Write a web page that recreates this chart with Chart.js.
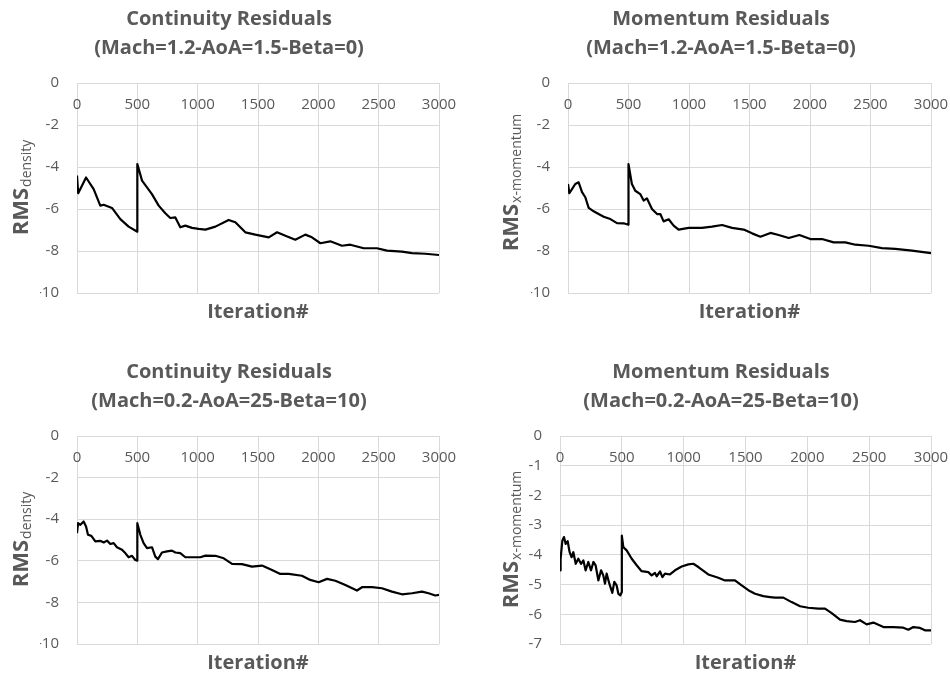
<!DOCTYPE html>
<html>
<head>
<meta charset="utf-8">
<script src="https://cdn.jsdelivr.net/npm/chart.js@4.4.1/dist/chart.umd.min.js"></script>
<style>
  body { margin: 0; background: #fff; width: 950px; height: 677px; overflow: hidden; position: relative; }
  canvas { position: absolute; }
</style>
</head>
<body>
<canvas id="contA" width="475" height="338" style="left:0;top:0"></canvas>
<canvas id="momA" width="475" height="338" style="left:475px;top:0"></canvas>
<canvas id="contB" width="475" height="339" style="left:0;top:338px"></canvas>
<canvas id="momB" width="475" height="339" style="left:475px;top:338px"></canvas>
<script>
// Mach=1.2, AoA=1.5, Beta=0 -- continuity
const iterContA = [0,10,75,138,193,221,290,359,428,500,500,539,580,621,677,732,773,815,856,898,953,1008,1064,1147,1257,1312,1395,1478,1589,1658,1727,1809,1892,1947,2017,2099,2196,2265,2376,2486,2569,2693,2776,2887,3000];
const rmsContA = [-4.41,-5.25,-4.5,-5.05,-5.84,-5.8,-5.95,-6.48,-6.84,-7.08,-3.86,-4.65,-4.97,-5.29,-5.84,-6.2,-6.43,-6.4,-6.87,-6.79,-6.9,-6.95,-6.98,-6.84,-6.52,-6.63,-7.11,-7.22,-7.35,-7.11,-7.27,-7.46,-7.22,-7.35,-7.63,-7.54,-7.75,-7.7,-7.87,-7.87,-7.98,-8.03,-8.1,-8.13,-8.19];

// Mach=1.2, AoA=1.5, Beta=0 -- x-momentum
const iterMomA = [0,11,33,60,88,116,143,171,212,253,295,350,405,460,500,500,528,556,597,625,652,694,736,763,790,832,873,914,997,1107,1190,1273,1356,1452,1521,1590,1673,1741,1824,1912,2003,2099,2196,2292,2375,2485,2595,2705,2843,3000];
const rmsMomA = [-4.81,-5.25,-5.05,-4.81,-4.73,-5.2,-5.44,-5.95,-6.11,-6.24,-6.37,-6.48,-6.67,-6.68,-6.75,-3.86,-4.81,-5.13,-5.29,-5.6,-5.49,-6.0,-6.24,-6.24,-6.59,-6.49,-6.79,-6.98,-6.9,-6.9,-6.84,-6.76,-6.9,-6.98,-7.16,-7.32,-7.14,-7.24,-7.38,-7.24,-7.43,-7.43,-7.59,-7.59,-7.7,-7.75,-7.86,-7.9,-7.98,-8.1];

// Mach=0.2, AoA=25, Beta=10 -- continuity
const iterContB = [0,9,28,55,75,91,119,152,193,221,249,276,304,331,373,400,428,456,483,500,500,525,552,580,622,649,671,704,746,787,815,856,898,953,1022,1064,1147,1216,1285,1367,1450,1533,1616,1685,1754,1864,1933,2003,2072,2141,2224,2320,2362,2445,2527,2610,2693,2776,2859,2914,2969,3000];
const rmsContB = [-4.67,-4.19,-4.27,-4.11,-4.35,-4.75,-4.8,-5.07,-5.04,-5.12,-5.03,-5.19,-5.15,-5.35,-5.47,-5.63,-5.83,-5.76,-5.96,-5.99,-4.19,-4.75,-5.15,-5.39,-5.35,-5.8,-5.92,-5.6,-5.55,-5.51,-5.6,-5.63,-5.83,-5.83,-5.83,-5.75,-5.76,-5.88,-6.15,-6.16,-6.28,-6.23,-6.44,-6.63,-6.63,-6.72,-6.92,-7.03,-6.87,-6.96,-7.16,-7.43,-7.27,-7.27,-7.32,-7.48,-7.61,-7.56,-7.48,-7.56,-7.67,-7.64];

// Mach=0.2, AoA=25, Beta=10 -- x-momentum
const iterMomB = [0,5,19,32,46,62,78,94,108,127,148,170,189,207,229,251,270,288,310,332,350,364,377,399,423,439,458,472,488,500,500,512,539,580,620,660,714,741,768,782,809,828,849,889,930,984,1038,1078,1119,1199,1280,1334,1415,1469,1523,1577,1644,1698,1739,1806,1873,1941,2008,2089,2143,2197,2264,2318,2385,2426,2480,2534,2615,2695,2776,2817,2857,2911,2951,3000];
const rmsMomB = [-4.52,-4.13,-3.52,-3.4,-3.63,-3.54,-3.91,-4.08,-3.91,-4.3,-4.13,-4.3,-4.19,-4.52,-4.24,-4.52,-4.24,-4.35,-4.86,-4.52,-4.69,-4.97,-4.63,-4.97,-5.28,-4.91,-5.03,-5.31,-5.36,-5.25,-3.35,-3.74,-3.85,-4.13,-4.35,-4.55,-4.58,-4.69,-4.61,-4.72,-4.56,-4.75,-4.63,-4.66,-4.52,-4.39,-4.32,-4.3,-4.41,-4.66,-4.77,-4.86,-4.86,-5.03,-5.19,-5.31,-5.39,-5.42,-5.44,-5.44,-5.59,-5.73,-5.78,-5.81,-5.81,-5.96,-6.18,-6.23,-6.26,-6.2,-6.34,-6.28,-6.43,-6.43,-6.45,-6.52,-6.43,-6.46,-6.54,-6.54];

const xTicks = [0, 500, 1000, 1500, 2000, 2500, 3000];

Chart.defaults.font.family = '"Open Sans", sans-serif';
Chart.defaults.color = '#595959';

// titles, "Iteration#" and the RMS label with its subscript
const panelText = {
  id: 'panelText',
  afterDraw(chart, args, o) {
    const ctx = chart.ctx;
    const area = chart.chartArea;
    ctx.save();
    ctx.fillStyle = '#595959';
    ctx.textAlign = 'center';
    ctx.textBaseline = 'middle';
    ctx.font = 'bold 20px "Open Sans"';
    o.title.forEach((t, i) => ctx.fillText(t, o.titleX, o.titleY[i]));
    ctx.font = 'bold 20px "Open Sans"';
    ctx.fillText('Iteration#', (area.left + area.right) / 2, o.xTitleY);

    ctx.translate(o.yLabX, o.yLabY);
    ctx.rotate(-Math.PI / 2);
    ctx.textAlign = 'left';
    ctx.textBaseline = 'alphabetic';
    const big = 'bold 22px "Open Sans"';
    const small = '14px "Open Sans"';
    ctx.font = big;
    const w1 = ctx.measureText(o.yMain).width;
    ctx.font = small;
    const w2 = ctx.measureText(o.ySub).width;
    const x0 = -(w1 + w2) / 2;
    ctx.font = big;
    ctx.fillText(o.yMain, x0, 0);
    ctx.font = small;
    ctx.fillText(o.ySub, x0 + w1 + 1, 3);
    ctx.restore();
  }
};

function panel(id, iters, vals, yMin, yStep, text, pad) {
  new Chart(document.getElementById(id), {
    type: 'line',
    data: {
      datasets: [{
        data: iters.map((x, i) => ({ x: x, y: vals[i] })),
        borderColor: '#000',
        borderWidth: 2.2,
        borderJoinStyle: 'round',
        pointRadius: 0,
        tension: 0,
        fill: false
      }]
    },
    options: {
      responsive: false,
      animation: false,
      events: [],
      layout: { padding: pad },
      plugins: {
        legend: { display: false },
        tooltip: { enabled: false },
        panelText: text
      },
      scales: {
        x: {
          type: 'linear',
          min: 0,
          max: 3000,
          position: { y: 0 },
          afterBuildTicks: s => { s.ticks = xTicks.map(v => ({ value: v })); },
          ticks: { padding: 13, font: { size: 15 }, maxRotation: 0, autoSkip: false, color: '#595959',
                   callback: v => String(v) },
          grid: { color: '#d9d9d9', drawTicks: false },
          border: { color: '#d9d9d9' },
          afterFit: s => { s.paddingLeft = 0; s.paddingRight = 0; }
        },
        y: {
          min: yMin,
          max: 0,
          ticks: { stepSize: yStep, padding: 18, font: { size: 15 }, color: '#595959',
                   callback: v => String(v) },
          grid: { color: '#d9d9d9', drawTicks: false },
          border: { display: false },
          afterFit: s => { s.width = 37; s.paddingTop = 0; s.paddingBottom = 0; }
        }
      }
    },
    plugins: [panelText]
  });
}

panel('contA', iterContA, rmsContA, -10, 2,
  { title: ['Continuity Residuals', '(Mach=1.2-AoA=1.5-Beta=0)'], titleX: 229, titleY: [19, 48],
    yMain: 'RMS', ySub: 'density', yLabX: 28, yLabY: 188, xTitleY: 312 },
  { left: 40, right: 36, top: 83, bottom: 45 });

panel('momA', iterMomA, rmsMomA, -10, 2,
  { title: ['Momentum Residuals', '(Mach=1.2-AoA=1.5-Beta=0)'], titleX: 246, titleY: [19, 48],
    yMain: 'RMS', ySub: 'x-momentum', yLabX: 43, yLabY: 183, xTitleY: 312 },
  { left: 56, right: 19, top: 83, bottom: 45 });

panel('contB', iterContB, rmsContB, -10, 2,
  { title: ['Continuity Residuals', '(Mach=0.2-AoA=25-Beta=10)'], titleX: 229, titleY: [34, 63],
    yMain: 'RMS', ySub: 'density', yLabX: 28, yLabY: 202, xTitleY: 325 },
  { left: 40, right: 36, top: 98, bottom: 33 });

panel('momB', iterMomB, rmsMomB, -7, 1,
  { title: ['Momentum Residuals', '(Mach=0.2-AoA=25-Beta=10)'], titleX: 246, titleY: [34, 63],
    yMain: 'RMS', ySub: 'x-momentum', yLabX: 43, yLabY: 202, xTitleY: 325 },
  { left: 48, right: 19, top: 98, bottom: 33 });
</script>
</body>
</html>
